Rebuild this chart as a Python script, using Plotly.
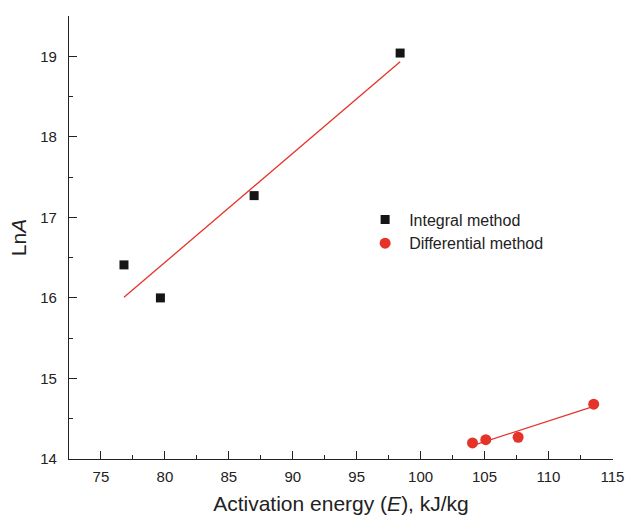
import numpy as np
import plotly.graph_objects as go

# Integral method
int_E = [76.8, 79.65, 86.98, 98.4]
int_lnA = [16.41, 16.0, 17.27, 19.04]
# Differential method
diff_E = [104.06, 105.1, 107.63, 113.54]
diff_lnA = [14.20, 14.24, 14.27, 14.68]

x_ticks = [75, 80, 85, 90, 95, 100, 105, 110, 115]
y_ticks = [14, 15, 16, 17, 18, 19]

RED = "#e5332a"
FONT = "Liberation Sans, Arial, sans-serif"

def fit(x, y):
    k, b = np.polyfit(x, y, 1)
    xs = [min(x), max(x)]
    return xs, [k * v + b for v in xs]

fig = go.Figure()
fx, fy = fit(int_E, int_lnA)
fig.add_trace(go.Scatter(x=fx, y=fy, mode="lines", line=dict(color=RED, width=1.3),
                         showlegend=False, hoverinfo="skip"))
fx2, fy2 = fit(diff_E, diff_lnA)
fig.add_trace(go.Scatter(x=fx2, y=fy2, mode="lines", line=dict(color=RED, width=1.3),
                         showlegend=False, hoverinfo="skip"))
fig.add_trace(go.Scatter(x=int_E, y=int_lnA, mode="markers", name="Integral method",
                         marker=dict(symbol="square", size=9, color="#151515")))
fig.add_trace(go.Scatter(x=diff_E, y=diff_lnA, mode="markers", name="Differential method",
                         marker=dict(symbol="circle", size=11, color=RED)))

axis_common = dict(
    showline=True, linecolor="#222", linewidth=1.3, mirror=False,
    showgrid=False, zeroline=False,
    ticks="inside", ticklen=8, tickwidth=1.3, tickcolor="#222",
    tickfont=dict(family=FONT, size=15, color="#222"),
)
fig.update_xaxes(range=[72.5, 115.05], tickvals=x_ticks, automargin=False,
                 minor=dict(ticks="inside", ticklen=4, tickwidth=1.3, tickcolor="#222", dtick=2.5, tick0=72.5),
                 title=dict(text="Activation energy (<i>E</i>), kJ/kg",
                            font=dict(family=FONT, size=21, color="#222"), standoff=12),
                 ticklabelstandoff=4,
                 **axis_common)
fig.update_yaxes(range=[14, 19.5], tickvals=y_ticks, automargin=True,
                 minor=dict(ticks="inside", ticklen=4, tickwidth=1.3, tickcolor="#222", dtick=0.5, tick0=14),
                 title=dict(text="Ln<i>A</i>", font=dict(family=FONT, size=21, color="#222"), standoff=7),
                 ticklabelstandoff=8,
                 **axis_common)

fig.update_layout(
    width=625, height=516,
    margin=dict(l=69, r=12, t=16, b=57),
    paper_bgcolor="white", plot_bgcolor="white",
    font=dict(family=FONT, color="#222"),
    legend=dict(x=0.537, y=0.579, xanchor="left", yanchor="top",
                itemwidth=38, bgcolor="rgba(0,0,0,0)",
                font=dict(family=FONT, size=16, color="#222")),
)

fig.write_html("out.html")
